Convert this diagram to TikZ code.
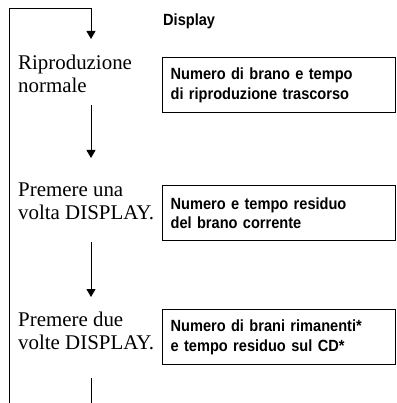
\documentclass[tikz,border=0pt]{standalone}
\usepackage{fontspec}
\setmainfont{Liberation Serif}
\newfontfamily\dispfont[FakeStretch=0.9]{Liberation Sans}
\usetikzlibrary{arrows.meta}
\begin{document}
\begin{tikzpicture}[x=1pt,y=-1pt,
  flowline/.style={line width=1pt},
  flowarrow/.style={flowline,-{Triangle[width=9pt,length=8pt]}},
  steptext/.style={anchor=base west,inner sep=0pt,align=left,
    font=\fontsize{20.9}{23}\selectfont},
  disphead/.style={anchor=base west,inner sep=0pt,
    font=\dispfont\bfseries\fontsize{16.2}{19.5}\selectfont},
  dispbox/.style={draw,line width=1.2pt,anchor=north west,
    minimum width=233pt,minimum height=55pt,inner xsep=8pt,inner ysep=0pt,
    text width=217pt,align=left,
    font=\dispfont\bfseries\fontsize{16.2}{19.5}\selectfont}]
\useasboundingbox (0,0) rectangle (396,403);

% loop coordinates
\coordinate (loopBL) at (9,404);
\coordinate (loopTL) at (9,9);
\coordinate (loopTR) at (91,9);
\coordinate (a1e) at (91,39);
\coordinate (a2s) at (91,105);
\coordinate (a2e) at (91,158);
\coordinate (a3s) at (91,242);
\coordinate (a3e) at (91,297);
\coordinate (a4s) at (91,378);
\coordinate (a4e) at (91,404);

\draw[flowarrow] (loopBL) -- (loopTL) -- (loopTR) -- (a1e);
\draw[flowarrow] (a2s) -- (a2e);
\draw[flowarrow] (a3s) -- (a3e);
\draw[flowline] (a4s) -- (a4e);

% header
\node[disphead] (head) at (163,26) {Display};

% left texts (anchor at baseline of the last line)
\node[steptext] (s1) at (18,93) {Riproduzione\\normale};
\node[steptext] (s2) at (18,219) {Premere una\\volta DISPLAY.};
\node[steptext] (s3) at (18,349) {Premere due\\volte DISPLAY.};

% display boxes
\node[dispbox] (b1) at (162,57) {Numero di brano e tempo\\di riproduzione trascorso};
\node[dispbox] (b2) at (162,185) {Numero e tempo residuo\\del brano corrente};
\node[dispbox] (b3) at (162,309) {Numero di brani rimanenti*\\e tempo residuo sul CD*};
\end{tikzpicture}
\end{document}
